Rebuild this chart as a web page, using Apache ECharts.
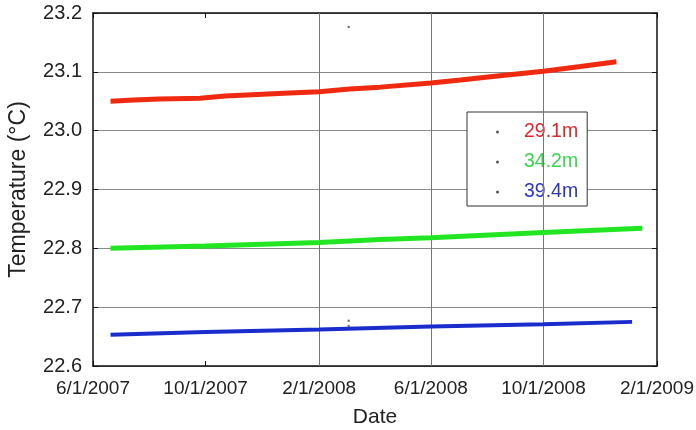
<!DOCTYPE html>
<html>
<head>
<meta charset="utf-8">
<script src="https://cdn.jsdelivr.net/npm/echarts@6/dist/echarts.min.js"></script>
<style>
  html, body { margin: 0; padding: 0; background: #fff; }
  #chart { width: 696px; height: 430px; }
</style>
</head>
<body>
<div id="chart"></div>
<script>
// Water temperature at three depths, June 2007 - January 2009
const depthNames = ['29.1m', '34.2m', '39.4m'];
const lineColors = ['#f02a10', '#22e622', '#1a2ccc'];
const textColors = ['#e0252b', '#35d84a', '#2a35c2'];

const dates29 = ['2007-06-20', '2007-07-15', '2007-08-12', '2007-09-25', '2007-10-22', '2007-12-31',
                 '2008-02-01', '2008-03-05', '2008-04-07', '2008-06-01', '2008-07-03', '2008-08-12',
                 '2008-10-01', '2008-11-10', '2008-12-19'];
const temp29 = [23.050, 23.052, 23.054, 23.055, 23.059, 23.064,
                23.066, 23.071, 23.074, 23.081, 23.086, 23.093,
                23.101, 23.109, 23.117];

const dates34 = ['2007-06-20', '2007-10-01', '2008-02-01', '2008-04-07', '2008-06-01', '2008-10-01', '2009-01-16'];
const temp34 = [22.800, 22.804, 22.810, 22.815, 22.818, 22.827, 22.834];

const dates39 = ['2007-06-20', '2007-10-01', '2008-02-01', '2008-06-01', '2008-10-01', '2009-01-05'];
const temp39 = [22.653, 22.658, 22.662, 22.667, 22.671, 22.675];

// isolated readings away from the main records
const strayDates = ['2008-03-04', '2008-03-04', '2008-03-04'];
const strayTemps = [23.176, 22.677, 22.668];

const tickDates = ['2007-06-01', '2007-10-01', '2008-02-01', '2008-06-01', '2008-10-01', '2009-02-01'];
const gridDates = ['2008-02-01', '2008-06-01', '2008-10-01'];

function toTime(s) {
  const p = s.split('-').map(Number);
  return new Date(p[0], p[1] - 1, p[2]).getTime();
}
function pairs(ds, vs) { return ds.map((d, i) => [toTime(d), vs[i]]); }

const tickTimes = tickDates.map(toTime);
const xMin = tickTimes[0], xMax = tickTimes[tickTimes.length - 1];
const FONT = 'Liberation Sans, Arial, sans-serif';

function fmtDate(v) {
  const d = new Date(v);
  return (d.getMonth() + 1) + '/' + d.getDate() + '/' + d.getFullYear();
}

const seriesData = [pairs(dates29, temp29), pairs(dates34, temp34), pairs(dates39, temp39)];

const chart = echarts.init(document.getElementById('chart'), null, { renderer: 'canvas' });

const lineSeries = seriesData.map((data, i) => ({
  name: depthNames[i],
  type: 'line',
  data: data,
  showSymbol: false,
  symbol: 'circle',
  symbolSize: 3,
  itemStyle: { color: '#555' },
  lineStyle: { color: lineColors[i], width: i === 2 ? 4 : 5 },
  z: 5,
  animation: false
}));

const axisLineStyle = { show: true, onZero: false, lineStyle: { color: '#111', width: 1.5 } };

chart.setOption({
  animation: false,
  grid: { left: 93, top: 13, right: 39, bottom: 64, containLabel: false, outerBoundsMode: 'none' },
  legend: {
    orient: 'vertical',
    left: 467,
    top: 112,
    padding: [10, 9, 4, 29],
    itemGap: 10,
    icon: 'circle',
    itemWidth: 3,
    itemHeight: 3,
    borderColor: '#333',
    borderWidth: 1,
    backgroundColor: '#fff',
    data: depthNames.map((n, i) => ({
      name: n,
      itemStyle: { color: '#555' },
      textStyle: { color: textColors[i], fontSize: 19.5, fontFamily: FONT, padding: [0, 0, 0, 20], lineHeight: 19 }
    }))
  },
  xAxis: [{
    type: 'value',
    min: xMin,
    max: xMax,
    position: 'bottom',
    name: 'Date',
    nameLocation: 'middle',
    nameGap: 41,
    nameTextStyle: { fontSize: 21, color: '#222', fontFamily: FONT },
    axisLine: axisLineStyle,
    axisTick: { show: true, inside: true, length: 5, customValues: tickTimes, lineStyle: { color: '#111' } },
    axisLabel: { customValues: tickTimes, formatter: fmtDate, fontSize: 19, color: '#222', fontFamily: FONT, margin: 13, showMinLabel: true, showMaxLabel: true },
    splitLine: { show: false }
  }, {
    type: 'value',
    min: xMin,
    max: xMax,
    position: 'top',
    axisLine: axisLineStyle,
    axisTick: { show: true, inside: true, length: 5, customValues: tickTimes, lineStyle: { color: '#111' } },
    axisLabel: { show: false },
    splitLine: { show: false }
  }],
  yAxis: [{
    type: 'value',
    min: 22.6,
    max: 23.2,
    interval: 0.1,
    position: 'left',
    name: 'Temperature (°C)',
    nameLocation: 'middle',
    nameGap: 63,
    nameRotate: 90,
    nameTextStyle: { fontSize: 23, color: '#222', fontFamily: FONT },
    axisLine: axisLineStyle,
    axisTick: { show: true, inside: true, length: 5, lineStyle: { color: '#111' } },
    axisLabel: { formatter: v => v.toFixed(1), fontSize: 20, color: '#222', fontFamily: FONT, margin: 11 },
    splitLine: { show: true, lineStyle: { color: '#8a8a8a', width: 1 } }
  }, {
    type: 'value',
    min: 22.6,
    max: 23.2,
    interval: 0.1,
    position: 'right',
    axisLine: axisLineStyle,
    axisTick: { show: true, inside: true, length: 5, lineStyle: { color: '#111' } },
    axisLabel: { show: false },
    splitLine: { show: false }
  }],
  series: [
    {
      name: 'grid',
      type: 'line',
      data: [],
      z: 1,
      silent: true,
      markLine: {
        silent: true,
        symbol: ['none', 'none'],
        label: { show: false },
        lineStyle: { color: '#777', width: 1, type: 'solid' },
        data: gridDates.map(d => ({ xAxis: toTime(d) }))
      }
    },
    ...lineSeries,
    {
      name: 'stray',
      type: 'scatter',
      data: pairs(strayDates, strayTemps),
      symbol: 'circle',
      symbolSize: 2.5,
      itemStyle: { color: '#555' },
      z: 6
    }
  ]
});
</script>
</body>
</html>
